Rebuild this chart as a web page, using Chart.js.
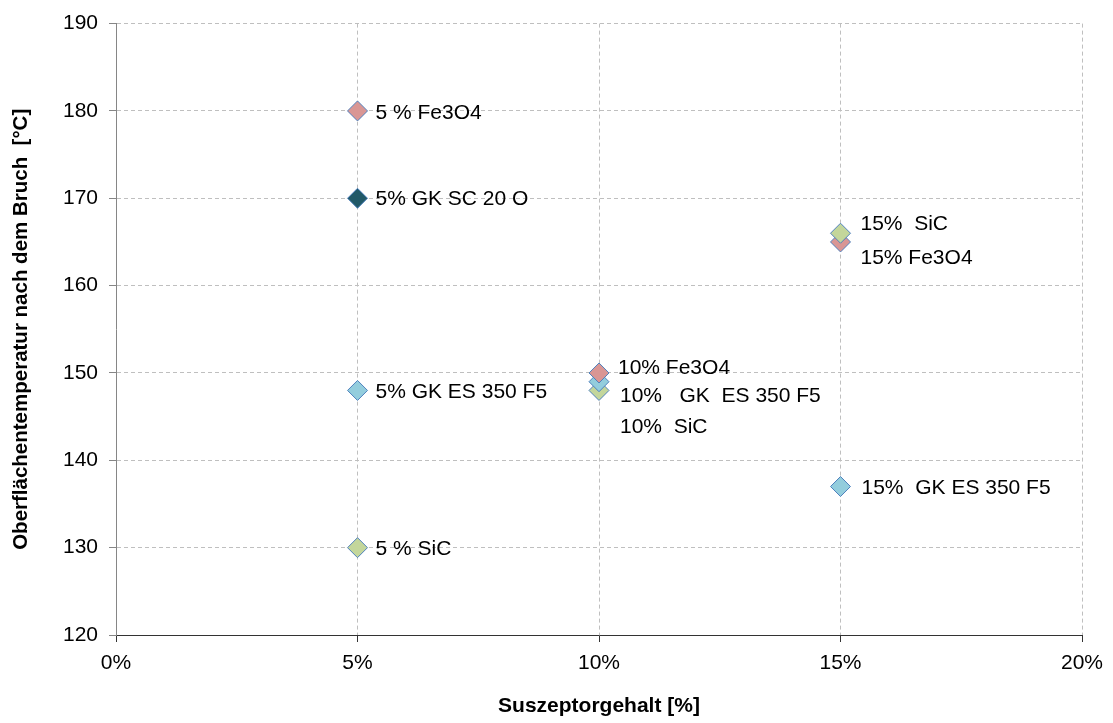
<!DOCTYPE html>
<html>
<head>
<meta charset="utf-8">
<title>Oberflächentemperatur nach dem Bruch</title>
<script src="https://cdn.jsdelivr.net/npm/chart.js@4/dist/chart.umd.min.js"></script>
<style>
  html, body { margin: 0; padding: 0; background: #ffffff; }
  #wrap { position: relative; width: 1113px; height: 723px; }
</style>
</head>
<body>
<div id="wrap"><canvas id="chart"></canvas></div>
<script>
// Suszeptorgehalt in %, shared by all materials
const suszeptorgehalt = [5, 10, 15];

// Oberflächentemperatur nach dem Bruch in °C
const tempFe3O4 = [180, 150, 165];
const tempSiC   = [130, 148, 166];
const tempGkEs  = [148, 149, 137];
const tempGkSc  = [170, null, null];

// point labels
const labelsFe3O4 = ['5 % Fe3O4', '10% Fe3O4', '15% Fe3O4'];
const labelsSiC   = ['5 % SiC', '10%  SiC', '15%  SiC'];
const labelsGkEs  = ['5% GK ES 350 F5', '10%   GK  ES 350 F5', '15%  GK ES 350 F5'];
const labelsGkSc  = ['5% GK SC 20 O', '', ''];

// axis tick values
const xTicks = [0, 5, 10, 15, 20];
const yTicks = [120, 130, 140, 150, 160, 170, 180, 190];

// styling: fill colour, stacking layer per point, label offsets
const materials = [
  { values: tempFe3O4, labels: labelsFe3O4, fill: '#D99694', layer: [2, 2, 1],
    off: [[18, 2], [19, -5], [20, 16]] },
  { values: tempSiC, labels: labelsSiC, fill: '#C3D69B', layer: [0, 0, 2],
    off: [[18, 2], [21, 37], [20, -9]] },
  { values: tempGkEs, labels: labelsGkEs, fill: '#93CDDD', layer: [1, 1, 0],
    off: [[18, 2], [21, 14], [21, 2]] },
  { values: tempGkSc, labels: labelsGkSc, fill: '#215968', layer: [3, 3, 3],
    off: [[18, 1], [0, 0], [0, 0]] }
];

const datasets = [];
materials.forEach(m => {
  suszeptorgehalt.forEach((x, i) => {
    if (m.values[i] == null) return;
    datasets.push({
      data: [{ x: x, y: m.values[i] }],
      label: m.labels[i],
      pointLabel: m.labels[i],
      labelOffset: m.off[i],
      order: -m.layer[i],
      backgroundColor: m.fill,
      borderColor: '#4F81BD',
      borderWidth: 1,
      pointStyle: 'rectRot',
      pointRadius: 10,
      pointHoverRadius: 10,
      showLine: false
    });
  });
});

const FONT = '"Liberation Sans", Arial, sans-serif';

// point labels and axis titles
const annotate = {
  id: 'annotate',
  afterDatasetsDraw(chart) {
    const ctx = chart.ctx;
    ctx.save();
    ctx.fillStyle = '#000';
    ctx.font = '21px ' + FONT;
    ctx.textAlign = 'left';
    ctx.textBaseline = 'middle';
    chart.data.datasets.forEach((ds, di) => {
      const el = chart.getDatasetMeta(di).data[0];
      if (!el || !ds.pointLabel) return;
      ctx.fillText(ds.pointLabel, el.x + ds.labelOffset[0], el.y + ds.labelOffset[1]);
    });
    ctx.restore();
  },
  afterDraw(chart) {
    const ctx = chart.ctx;
    const area = chart.chartArea;
    ctx.save();
    ctx.fillStyle = '#000';
    ctx.textAlign = 'center';
    ctx.textBaseline = 'middle';
    ctx.font = 'bold 21px ' + FONT;
    ctx.fillText('Suszeptorgehalt [%]', (area.left + area.right) / 2, 706);
    ctx.font = 'bold 20.5px ' + FONT;
    ctx.translate(21, (area.top + area.bottom) / 2);
    ctx.rotate(-Math.PI / 2);
    ctx.fillText('Oberflächentemperatur nach dem Bruch  [°C]', 0, 0);
    ctx.restore();
  }
};

new Chart(document.getElementById('chart'), {
  type: 'scatter',
  data: { datasets },
  options: {
    responsive: true,
    maintainAspectRatio: false,
    animation: false,
    layout: { padding: { top: 21, right: 31, bottom: 0, left: 0 } },
    plugins: { legend: { display: false }, tooltip: { enabled: false } },
    scales: {
      x: {
        type: 'linear',
        min: 0, max: 20,
        afterBuildTicks: s => { s.ticks = xTicks.map(v => ({ value: v })); },
        afterFit: s => { s.height = 88; },
        ticks: {
          color: '#000',
          font: { family: FONT, size: 21 },
          padding: 9,
          maxRotation: 0,
          callback: v => v + '%'
        },
        grid: {
          color: '#BFBFBF',
          tickColor: '#333333',
          tickLength: 7,
          tickBorderDash: [],
          lineWidth: 1
        },
        border: { display: true, color: '#333333', width: 1, dash: [4, 3] }
      },
      y: {
        type: 'linear',
        min: 120, max: 190,
        afterBuildTicks: s => { s.ticks = yTicks.map(v => ({ value: v })); },
        afterFit: s => { s.width = 116; },
        ticks: {
          color: '#000',
          font: { family: FONT, size: 21 },
          padding: 11
        },
        grid: {
          color: '#BFBFBF',
          tickColor: '#868686',
          tickLength: 7,
          tickBorderDash: [],
          lineWidth: 1
        },
        border: { display: true, color: '#868686', width: 1, dash: [4, 3] }
      }
    }
  },
  plugins: [annotate]
});
</script>
</body>
</html>
